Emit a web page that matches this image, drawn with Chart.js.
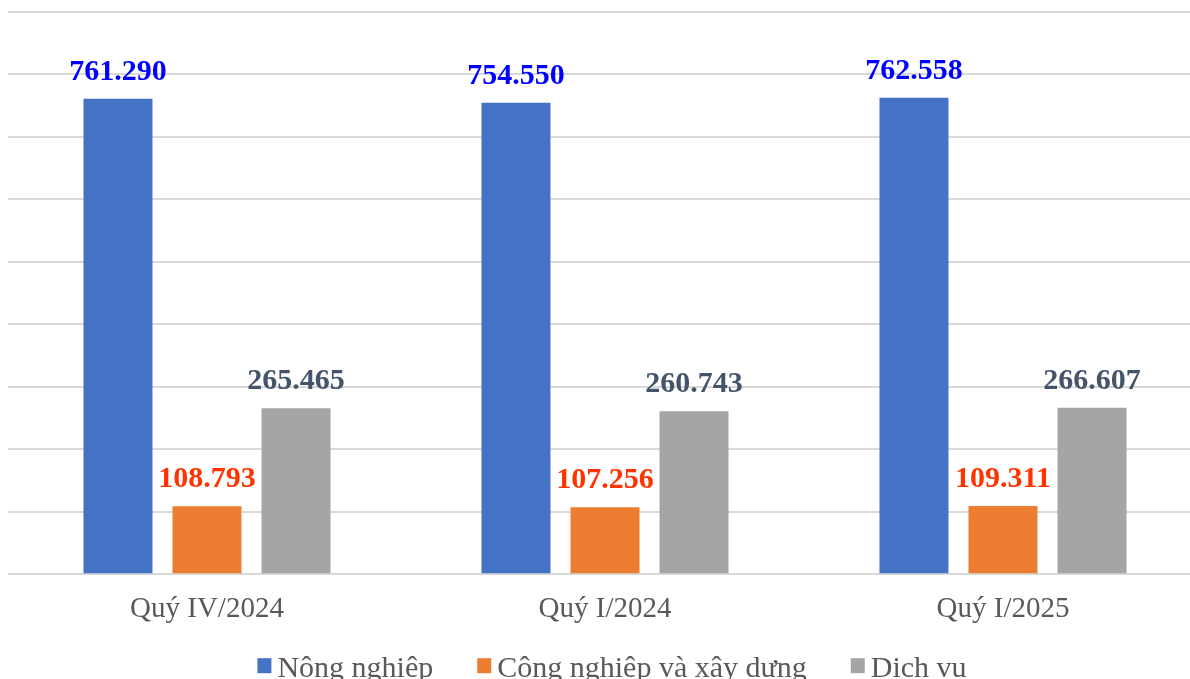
<!DOCTYPE html>
<html lang="vi">
<head>
<meta charset="utf-8">
<title>Lao động theo khu vực</title>
<script src="https://cdn.jsdelivr.net/npm/chart.js@4/dist/chart.umd.min.js"></script>
<style>
    body { margin: 0; background: #fff; overflow: hidden; width: 1190px; height: 679px; position: relative; }
    #wrap { position: absolute; left: 0; top: 0; width: 1202px; height: 700px; }
</style>
</head>
<body>
<div id="wrap"><canvas id="laborChart"></canvas></div>
<script>
const quarters = ['Quý IV/2024', 'Quý I/2024', 'Quý I/2025'];
const seriesNames = ['Nông nghiệp', 'Công nghiệp và xây dựng', 'Dịch vụ'];
const nongNghiep = [761.290, 754.550, 762.558];
const congNghiep = [108.793, 107.256, 109.311];
const dichVu = [265.465, 260.743, 266.607];
const yTicks = [0, 100, 200, 300, 400, 500, 600, 700, 800, 900];

const barColors = ['#4472C4', '#ED7D31', '#A5A5A5'];
const labelColors = ['#0000FF', '#FF3300', '#44546A'];
const serif = '"Liberation Serif", "Times New Roman", serif';

const formatValue = (v) => v.toFixed(3);

// draws the value above each bar, using the bar positions from chart.js
const valueLabels = {
    id: 'valueLabels',
    afterDatasetsDraw(chart) {
        const ctx = chart.ctx;
        ctx.save();
        ctx.font = 'bold 30px ' + serif;
        ctx.textAlign = 'center';
        ctx.textBaseline = 'alphabetic';
        chart.data.datasets.forEach((ds, i) => {
            ctx.fillStyle = labelColors[i];
            chart.getDatasetMeta(i).data.forEach((bar, j) => {
                ctx.fillText(formatValue(ds.data[j]), bar.x, bar.y - 19);
            });
        });
        ctx.restore();
    }
};

// legend under the axis labels, small square + text like the office chart
const bottomLegend = {
    id: 'bottomLegend',
    afterDraw(chart) {
        const ctx = chart.ctx;
        const boxW = 14, boxH = 15, gap = 6, spacing = 44;
        const baseline = chart.chartArea.bottom + 103;
        ctx.save();
        ctx.font = '30px ' + serif;
        ctx.textBaseline = 'alphabetic';
        const widths = chart.data.datasets.map((ds) => ctx.measureText(ds.label).width);
        const total = widths.reduce((acc, w) => acc + boxW + gap + w, 0) + spacing * (widths.length - 1);
        let x = chart.width / 2 + 11 - total / 2;
        chart.data.datasets.forEach((ds, i) => {
            ctx.fillStyle = ds.backgroundColor;
            ctx.fillRect(x, baseline - 19, boxW, boxH);
            ctx.fillStyle = '#595959';
            ctx.fillText(ds.label, x + boxW + gap, baseline);
            x += boxW + gap + widths[i] + spacing;
        });
        ctx.restore();
    }
};

const makeDataset = (label, data, i) => ({
    label: label,
    data: data,
    backgroundColor: barColors[i],
    barPercentage: 0.775,
    categoryPercentage: 0.671,
});

const ctx = document.getElementById('laborChart').getContext('2d');
const laborChart = new Chart(ctx, {
    type: 'bar',
    data: {
        labels: quarters,
        datasets: [
            makeDataset(seriesNames[0], nongNghiep, 0),
            makeDataset(seriesNames[1], congNghiep, 1),
            makeDataset(seriesNames[2], dichVu, 2),
        ],
    },
    options: {
        responsive: true,
        maintainAspectRatio: false,
        animation: false,
        layout: { padding: { top: 12, left: 8, right: 0, bottom: 63 } },
        plugins: {
            legend: { display: false },
            tooltip: { enabled: false },
        },
        scales: {
            x: {
                grid: { display: false },
                border: { display: false },
                ticks: {
                    color: '#595959',
                    padding: 10,
                    font: { family: serif, size: 29 },
                },
            },
            y: {
                min: yTicks[0],
                max: yTicks[yTicks.length - 1],
                afterBuildTicks: (axis) => { axis.ticks = yTicks.map((v) => ({ value: v })); },
                grid: { color: '#D9D9D9', lineWidth: 2, drawTicks: false },
                border: { display: false },
                ticks: { display: false },
            },
        },
    },
    plugins: [valueLabels, bottomLegend],
});
</script>
</body>
</html>
